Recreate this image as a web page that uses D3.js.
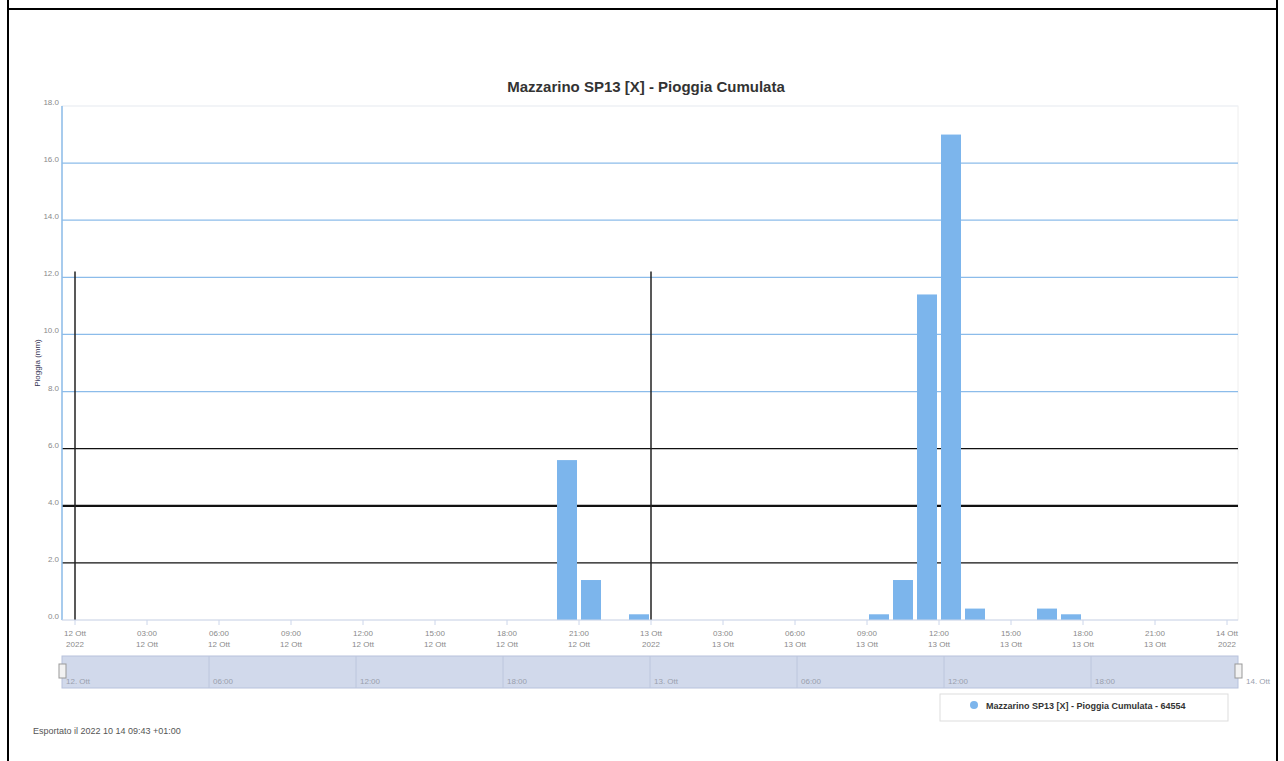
<!DOCTYPE html>
<html>
<head>
<meta charset="utf-8">
<style>
  body { margin: 0; background: #fff; }
  text { font-family: "Liberation Sans", Arial, sans-serif; }
  .tick-lbl { fill: #8a8a8a; font-size: 8px; }
  .nav-lbl { fill: #9aa0ad; font-size: 8px; }
</style>
</head>
<body>
<svg width="1284" height="761"></svg>
<script src="https://cdnjs.cloudflare.com/ajax/libs/d3/7.8.5/d3.min.js"></script>
<script>
// data: hourly rain (mm), each bar = hour starting at time
var barStarts = ["2022-10-12T20:00", "2022-10-12T21:00", "2022-10-12T23:00",
                 "2022-10-13T09:00", "2022-10-13T10:00", "2022-10-13T11:00",
                 "2022-10-13T12:00", "2022-10-13T13:00", "2022-10-13T16:00",
                 "2022-10-13T17:00"];
var barValues = [5.6, 1.4, 0.2, 0.2, 1.4, 11.4, 17.0, 0.4, 0.4, 0.2];
var yTicks = [0, 2, 4, 6, 8, 10, 12, 14, 16, 18];
var xTickTop = ["12 Ott", "03:00", "06:00", "09:00", "12:00", "15:00", "18:00", "21:00",
                "13 Ott", "03:00", "06:00", "09:00", "12:00", "15:00", "18:00", "21:00", "14 Ott"];
var xTickBottom = ["2022", "12 Ott", "12 Ott", "12 Ott", "12 Ott", "12 Ott", "12 Ott", "12 Ott",
                   "2022", "13 Ott", "13 Ott", "13 Ott", "13 Ott", "13 Ott", "13 Ott", "13 Ott", "2022"];
var navLabels = ["12. Ott", "06:00", "12:00", "18:00", "13. Ott", "06:00", "12:00", "18:00", "14. Ott"];
var chartTitle = "Mazzarino SP13 [X] - Pioggia Cumulata";
var seriesName = "Mazzarino SP13 [X] - Pioggia Cumulata - 64554";
var yTitle = "Pioggia (mm)";
var footer = "Esportato il 2022 10 14 09:43 +01:00";

var svg = d3.select("svg");
var parse = d3.timeParse("%Y-%m-%dT%H:%M");
var t0 = parse("2022-10-12T00:00"), t1 = parse("2022-10-14T00:00");

var plotL = 62, plotR = 1238, plotT = 106, plotB = 620;

var x = d3.scaleTime().domain([t0, t1]).range([75, 1227]);
var y = d3.scaleLinear().domain([0, 18]).range([plotB, plotT]);

// outer frame
svg.append("rect").attr("x", 8).attr("y", -2).attr("width", 1269).attr("height", 766)
  .attr("fill", "none").attr("stroke", "#000").attr("stroke-width", 2);
svg.append("line").attr("x1", 8).attr("x2", 1277).attr("y1", 9).attr("y2", 9)
  .attr("stroke", "#000").attr("stroke-width", 2);

svg.append("text").attr("x", 646).attr("y", 92).attr("text-anchor", "middle")
  .attr("font-size", 15).attr("font-weight", "bold").attr("fill", "#333").text(chartTitle);

// plot frame
svg.append("rect").attr("x", plotL).attr("y", plotT).attr("width", plotR - plotL).attr("height", plotB - plotT)
  .attr("fill", "none").attr("stroke", "#eee");

// horizontal grid
svg.append("g").selectAll("line").data(yTicks.filter(function(d) { return d > 0; })).join("line")
  .attr("x1", plotL).attr("x2", plotR)
  .attr("y1", function(d) { return y(d); }).attr("y2", function(d) { return y(d); })
  .attr("stroke", function(d) { return d >= 18 ? "#eef2f8" : d >= 8 ? "#8cbcea" : "#111"; })
  .attr("stroke-width", function(d) { return d === 4 ? 2.2 : 1.2; });

// dark vertical stripes at day boundaries
svg.append("g").selectAll("line").data([t0, parse("2022-10-13T00:00")]).join("line")
  .attr("x1", function(d) { return x(d); }).attr("x2", function(d) { return x(d); })
  .attr("y1", y(12.2)).attr("y2", plotB)
  .attr("stroke", "#222").attr("stroke-width", 1.5);

// bars
var barW = 20;
svg.append("g").selectAll("rect").data(barValues).join("rect")
  .attr("x", function(d, i) { return x(parse(barStarts[i])) + 2; })
  .attr("y", function(d) { return y(d); })
  .attr("width", barW)
  .attr("height", function(d) { return plotB - y(d); })
  .attr("fill", "#7cb5ec");

// axes
svg.append("line").attr("x1", plotL).attr("x2", plotL).attr("y1", plotT).attr("y2", plotB)
  .attr("stroke", "#8cbcea").attr("stroke-width", 1.5);
svg.append("line").attr("x1", plotL).attr("x2", plotR).attr("y1", plotB).attr("y2", plotB)
  .attr("stroke", "#ccd6eb");

svg.append("g").selectAll("text").data(yTicks).join("text")
  .attr("class", "tick-lbl").attr("x", 59).attr("y", function(d) { return y(d) - 1; })
  .attr("text-anchor", "end").text(function(d) { return d.toFixed(1); });

svg.append("text").attr("transform", "translate(40," + y(9) + ") rotate(-90)")
  .attr("text-anchor", "middle").attr("font-size", 8).attr("fill", "#335").text(yTitle);

var xTicks = d3.timeHour.every(3).range(t0, d3.timeHour.offset(t1, 1));
var xt = svg.append("g").selectAll("g").data(xTicks).join("g")
  .attr("transform", function(d) { return "translate(" + x(d) + ",0)"; });
xt.append("line").attr("y1", plotB).attr("y2", plotB + 5).attr("stroke", "#ccd6eb");
xt.append("text").attr("class", "tick-lbl").attr("y", 636).attr("text-anchor", "middle")
  .text(function(d, i) { return xTickTop[i]; });
xt.append("text").attr("class", "tick-lbl").attr("y", 647).attr("text-anchor", "middle")
  .text(function(d, i) { return xTickBottom[i]; });

// navigator
var nx = d3.scaleTime().domain([t0, t1]).range([plotL, plotR]);
svg.append("rect").attr("x", plotL).attr("y", 656).attr("width", plotR - plotL).attr("height", 32)
  .attr("fill", "#d1d9eb").attr("stroke", "#b7c2dc");
var navTicks = d3.timeHour.every(6).range(t0, d3.timeHour.offset(t1, 1));
svg.append("g").selectAll("line").data(navTicks.slice(1, -1)).join("line")
  .attr("x1", function(d) { return nx(d); }).attr("x2", function(d) { return nx(d); })
  .attr("y1", 656).attr("y2", 688).attr("stroke", "#bcc6dd");
svg.append("g").selectAll("text").data(navTicks).join("text")
  .attr("class", "nav-lbl")
  .attr("x", function(d, i) { return nx(d) + (i === navTicks.length - 1 ? 8 : 4); })
  .attr("y", 684).text(function(d, i) { return navLabels[i]; });
svg.append("g").selectAll("rect").data([plotL, plotR]).join("rect")
  .attr("x", function(d) { return d - 3; }).attr("y", 664).attr("width", 7).attr("height", 14)
  .attr("fill", "#f2f2f2").attr("stroke", "#999");

// legend
svg.append("rect").attr("x", 940).attr("y", 694).attr("width", 288).attr("height", 27)
  .attr("fill", "#fff").attr("stroke", "#ddd");
svg.append("circle").attr("cx", 974).attr("cy", 705).attr("r", 4).attr("fill", "#7cb5ec");
svg.append("text").attr("x", 986).attr("y", 709).attr("font-size", 9).attr("fill", "#333")
  .attr("font-weight", "bold").text(seriesName);

svg.append("text").attr("x", 33).attr("y", 734).attr("font-size", 9).attr("fill", "#555").text(footer);
</script>
</body>
</html>
